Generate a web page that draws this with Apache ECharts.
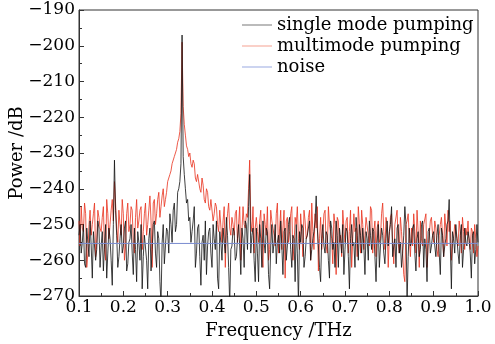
<!DOCTYPE html>
<html>
<head>
<meta charset="utf-8">
<script src="https://cdn.jsdelivr.net/npm/echarts@6/dist/echarts.min.js"></script>
<style>html,body{margin:0;padding:0;background:#fff}#c{width:495px;height:344px}</style>
</head>
<body>
<div id="c"></div>
<script>
// Frequency grid (THz): main samples 0.100 .. 1.000 step 0.005, mid samples offset by 0.0025
const freqStart = 0.1;
const freqStep = 0.005;
// multimode pumping (dB) at main samples
const multimode = [
-249,-245,-252,-247,-258,-246,-250,-244,-255,-248,
-252,-245,-260,-247,-250,-243,-238,-251,-246,-253,
-247,-256,-244,-250,-246,-258,-243,-249,-245,-252,
-244,-250,-242,-262,-243,-247,-241,-245,-240,-243,
-238,-236,-233,-231,-229,-226,-219,-217,-225,-229,
-230,-234,-233,-238,-236,-241,-239,-244,-241,-246,
-243,-247,-245,-252,-246,-249,-262,-247,-251,-248,
-253,-246,-250,-260,-245,-251,-248,-232,-252,-258,
-248,-255,-246,-262,-250,-245,-257,-249,-253,-247,
-258,-246,-251,-265,-248,-252,-245,-256,-250,-254,
-247,-259,-249,-253,-246,-244,-257,-251,-263,-248,
-252,-246,-258,-250,-254,-247,-264,-249,-253,-246,
-255,-248,-252,-262,-247,-251,-245,-258,-250,-253,
-248,-256,-246,-252,-259,-249,-254,-244,-257,-250,
-253,-247,-261,-250,-255,-248,-252,-266,-249,-254,
-251,-247,-258,-252,-249,-256,-250,-262,-253,-248,
-255,-251,-259,-250,-253,-247,-256,-252,-260,-254,
-250,-256,-252,-248,-257,-253,-255,-251,-258,-254,
-256
];
// multimode pumping (dB) at mid samples
const multimodeMid = [
-256,-251,-244,-262,-250,-253,-247,-259,-246,-251,
-248,-257,-243,-254,-246,-249,-244,-255,-250,-243,
-260,-247,-252,-245,-255,-248,-251,-246,-257,-247,
-253,-246,-249,-244,-250,-243,-248,-242,-245,-241,
-237,-235,-233,-230,-227,-224,-199,-222,-228,-231,
-233,-232,-237,-236,-240,-237,-243,-240,-245,-243,
-249,-244,-250,-246,-255,-245,-251,-244,-253,-250,
-247,-255,-245,-252,-250,-247,-240,-249,-245,-251,
-252,-249,-258,-247,-253,-260,-246,-251,-256,-244,
-251,-257,-246,-249,-255,-247,-260,-248,-245,-257,
-252,-246,-254,-248,-260,-252,-247,-245,-254,-257,
-247,-256,-245,-252,-261,-250,-248,-255,-259,-251,
-249,-258,-246,-254,-252,-259,-250,-246,-257,-248,
-253,-245,-258,-249,-251,-255,-247,-252,-248,-262,
-248,-255,-250,-246,-258,-252,-264,-250,-247,-259,
-256,-252,-246,-262,-254,-250,-247,-256,-249,-253,
-249,-257,-253,-248,-259,-251,-246,-249,-255,-250,
-254,-249,-258,-252,-251,-249,-257,-252,-250,-259
];
// single mode pumping (dB) at main samples
const singleMode = [
-253,-258,-250,-262,-255,-249,-265,-252,-257,-251,
-256,-263,-250,-258,-254,-267,-232,-253,-259,-250,
-256,-249,-261,-254,-258,-251,-266,-255,-250,-259,
-253,-268,-251,-257,-249,-262,-254,-272,-250,-256,
-252,-247,-255,-244,-250,-240,-233,-231,-240,-243,
-248,-252,-245,-258,-250,-267,-253,-249,-256,-251,
-262,-254,-249,-268,-255,-251,-258,-253,-272,-256,
-252,-259,-250,-264,-254,-249,-257,-236,-253,-260,
-251,-266,-254,-249,-258,-252,-268,-250,-255,-261,
-253,-249,-264,-251,-256,-248,-262,-254,-250,-272,
-255,-251,-259,-253,-249,-257,-252,-242,-256,-266,
-250,-258,-253,-265,-251,-255,-249,-262,-254,-250,
-257,-252,-268,-250,-255,-248,-260,-253,-251,-264,
-254,-249,-257,-252,-266,-250,-256,-253,-261,-249,
-252,-245,-256,-262,-250,-255,-258,-245,-272,-251,
-255,-250,-263,-252,-257,-249,-254,-266,-251,-256,
-252,-259,-250,-264,-253,-256,-250,-243,-268,-254,
-250,-258,-253,-262,-251,-256,-254,-265,-252,-257,
-255
];
// single mode pumping (dB) at mid samples
const singleModeMid = [
-250,-255,-261,-251,-259,-256,-252,-260,-249,-262,
-252,-256,-265,-251,-260,-250,-246,-262,-254,-258,
-251,-263,-255,-250,-264,-257,-252,-260,-268,-253,
-260,-254,-263,-250,-258,-252,-266,-255,-261,-251,
-258,-250,-246,-252,-241,-238,-197,-236,-244,-249,
-255,-249,-262,-251,-259,-255,-260,-264,-252,-258,
-250,-257,-265,-252,-260,-255,-248,-262,-257,-251,
-260,-254,-256,-251,-262,-250,-245,-258,-251,-266,
-258,-250,-262,-255,-251,-264,-256,-258,-250,-255,
-258,-256,-252,-260,-250,-257,-253,-266,-258,-252,
-250,-262,-254,-251,-260,-254,-249,-251,-262,-254,
-256,-252,-260,-249,-257,-262,-253,-251,-258,-264,
-251,-259,-254,-256,-262,-253,-250,-258,-256,-252,
-260,-253,-251,-259,-255,-262,-251,-258,-254,-256,
-250,-259,-254,-251,-258,-262,-253,-250,-259,-256,
-251,-258,-254,-259,-250,-262,-257,-252,-258,-253,
-256,-253,-258,-251,-259,-254,-249,-256,-252,-258,
-254,-261,-250,-257,-255,-252,-258,-253,-261,-250
];
// noise floor (dB)
const noiseFreq = [0.1, 1.0];
const noise = [-255.3, -255.3];

function merge(main, mid) {
  const out = [];
  main.forEach((v, i) => {
    out.push([+(freqStart + i * freqStep).toFixed(4), v]);
    if (i < mid.length) out.push([+(freqStart + (i + 0.5) * freqStep).toFixed(4), mid[i]]);
  });
  return out;
}

const font = 'DejaVu Serif';
const chart = echarts.init(document.getElementById('c'), null, {renderer: 'canvas'});
chart.setOption({
  animation: false,
  backgroundColor: '#fff',
  grid: {left: 79, right: 17, top: 10, bottom: 48, containLabel: false, outerBoundsMode: 'none',
    show: true, borderColor: '#333', borderWidth: 1, backgroundColor: 'transparent'},
  legend: {
    orient: 'vertical', left: 237, top: 11, itemGap: 3, itemWidth: 30, itemHeight: 1,
    icon: 'rect',
    textStyle: {fontFamily: font, fontSize: 18, color: '#000'},
    data: [
      {name: 'single mode pumping', itemStyle: {color: '#777'}},
      {name: 'multimode pumping', itemStyle: {color: '#f5a090'}},
      {name: 'noise', itemStyle: {color: '#98a8e0'}}
    ]
  },
  xAxis: {
    type: 'value', min: 0.1, max: 1.0, interval: 0.1,
    name: 'Frequency /THz', nameLocation: 'middle', nameGap: 26, nameMoveOverlap: false,
    nameTextStyle: {fontFamily: font, fontSize: 18, color: '#000'},
    axisLine: {lineStyle: {color: '#333', width: 1}},
    axisTick: {inside: true, length: 5, lineStyle: {color: '#333'}},
    minorTick: {show: true, splitNumber: 2, length: 3, lineStyle: {color: '#333'}},
    splitLine: {show: false},
    axisLabel: {fontFamily: font, fontSize: 17, color: '#000', margin: 3, formatter: v => v.toFixed(1)}
  },
  yAxis: {
    type: 'value', min: -270, max: -190, interval: 10,
    name: 'Power /dB', nameLocation: 'middle', nameGap: 53, nameRotate: 90, nameMoveOverlap: false,
    nameTextStyle: {fontFamily: font, fontSize: 18, color: '#000'},
    axisLine: {show: true, lineStyle: {color: '#333', width: 1}},
    axisTick: {show: true, inside: true, length: 5, lineStyle: {color: '#333'}},
    minorTick: {show: true, splitNumber: 2, length: 3, lineStyle: {color: '#333'}},
    splitLine: {show: false},
    axisLabel: {fontFamily: font, fontSize: 17, color: '#000', margin: 4, formatter: v => String(v).replace('-', '\u2212')}
  },
  series: [
    {name: 'single mode pumping', type: 'line', data: merge(singleMode, singleModeMid), showSymbol: false, symbol: 'none', clip: true,
      lineStyle: {color: '#111', width: 1, opacity: 0.8}, itemStyle: {color: '#777'}, z: 3},
    {name: 'multimode pumping', type: 'line', data: merge(multimode, multimodeMid), showSymbol: false, symbol: 'none', clip: true,
      lineStyle: {color: '#e8321e', width: 1, opacity: 0.8}, itemStyle: {color: '#f5a090'}, z: 2},
    {name: 'noise', type: 'line', data: noiseFreq.map((f, i) => [f, noise[i]]), showSymbol: false, symbol: 'none',
      lineStyle: {color: '#7a8cd0', width: 1}, itemStyle: {color: '#98a8e0'}, z: 4}
  ]
});
</script>
</body>
</html>
